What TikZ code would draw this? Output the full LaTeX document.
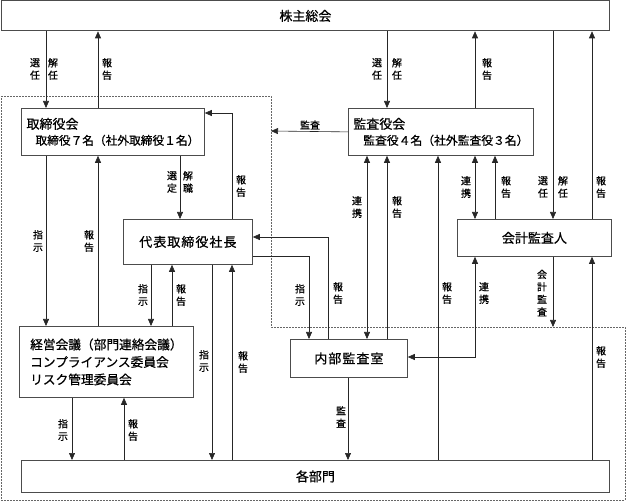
\documentclass[tikz,border=0pt]{standalone}
\usepackage{fontspec}
\setmainfont{Noto Sans CJK JP}[FakeBold=0.7]
\newfontfamily\spaced{Noto Sans CJK JP}[LetterSpace=8,FakeBold=0.7]
\usetikzlibrary{arrows.meta}

\begin{document}
\begin{tikzpicture}[x=1pt, y=-1pt,
    box/.style={draw=black!70, line width=0.8pt, anchor=north west,
      inner sep=0pt, font=\fontsize{13}{16}\selectfont},
    arr/.style={-{Triangle[length=7pt,width=6pt]}, draw=black!85, line width=0.6pt},
    both/.style={{Triangle[length=7pt,width=6pt]}-{Triangle[length=7pt,width=6pt]},
      draw=black!85, line width=0.6pt},
    lbl/.style={font=\fontsize{10}{12.5}\selectfont, align=center, inner sep=0pt},
    region/.style={draw=black!60, line width=0.6pt, dash pattern=on 2pt off 1pt}
  ]
  \useasboundingbox (0,0) rectangle (626,502);

  % dashed area
  \draw[region] (1,96) -- (271,96) -- (271,327) -- (625,327) -- (625,500)
    -- (1,500) -- cycle;

  % boxes
  \node[box, minimum width=608pt, minimum height=30pt] (kabu) at (1,0.5) {株主総会};
  \node[box, minimum width=183pt, minimum height=47pt, align=left,
    font=\fontsize{13}{16}\selectfont] (tori) at (21,108)
    {取締役会\\\hspace*{9pt}{\fontsize{11.7}{16}\selectfont 取締役７名（社外取締役１名）}};
  \node[box, minimum width=185pt, minimum height=47pt, align=left,
    font=\fontsize{13}{16}\selectfont] (kansa) at (348,108)
    {監査役会\\\hspace*{10pt}{\fontsize{11.8}{16}\selectfont 監査役４名（社外監査役３名）}};
  \node[box, minimum width=129pt, minimum height=45pt, font=\spaced\fontsize{13}{16}\selectfont]
    (pres) at (123,219) {代表取締役社長};
  \node[box, minimum width=154pt, minimum height=37pt] (kaikei) at (457,219) {会計監査人};
  \node[box, minimum width=174pt, minimum height=71pt, align=left,
    font=\fontsize{12.7}{17.5}\selectfont] (keiei) at (19,326)
    {経営会議（部門連絡会議）\\コンプライアンス委員会\\リスク管理委員会};
  \node[box, minimum width=117pt, minimum height=38pt, font=\spaced\fontsize{13}{16}\selectfont]
    (naibu) at (290,339) {内部監査室};
  \node[box, minimum width=588pt, minimum height=32pt] (kakubu) at (21,460) {各部門};

  \coordinate (auditend) at (271,131);
  \coordinate (acctend) at (553,327);

  % shareholders
  \draw[arr] (46,0 |- kabu.south) -- (46,0 |- tori.north);
  \draw[arr] (98,0 |- tori.north) -- (98,0 |- kabu.south);
  \draw[arr] (387,0 |- kabu.south) -- (387,0 |- kansa.north);
  \draw[arr] (475,0 |- kansa.north) -- (475,0 |- kabu.south);
  \draw[arr] (553,0 |- kabu.south) -- (553,0 |- kaikei.north);
  \draw[arr] (592,0 |- kaikei.north) -- (592,0 |- kabu.south);
  \node[lbl] (l1) at (35,69) {選\\任};
  \node[lbl] (l2) at (53,69) {解\\任};
  \node[lbl] (l3) at (107,69) {報\\告};
  \node[lbl] (l4) at (377,69) {選\\任};
  \node[lbl] (l5) at (397,69) {解\\任};
  \node[lbl] (l6) at (487,69) {報\\告};
  \node[lbl] (l7) at (543,187) {選\\任};
  \node[lbl] (l8) at (563,187) {解\\任};
  \node[lbl] (l9) at (601,187) {報\\告};

  % board
  \draw[arr] (kansa.west) -- (auditend);
  \node[lbl] (l10) at (310,125) {監査};
  \draw[arr] (180,0 |- tori.south) -- (180,0 |- pres.north);
  \draw[arr] (232,0 |- pres.north) |- (tori.east |- 0,113);
  \node[lbl] (l11) at (172,182) {選\\定};
  \node[lbl] (l12) at (188,182) {解\\職};
  \node[lbl] (l13) at (241,186) {報\\告};
  \draw[arr] (46,0 |- tori.south) -- (46,0 |- keiei.north);
  \draw[arr] (98,0 |- keiei.north) -- (98,0 |- tori.south);
  \node[lbl] (l14) at (38,241) {指\\示};
  \node[lbl] (l15) at (89,241) {報\\告};

  % president
  \draw[arr] (151,0 |- pres.south) -- (151,0 |- keiei.north);
  \draw[arr] (172,0 |- keiei.north) -- (172,0 |- pres.south);
  \node[lbl] (l16) at (143,295) {指\\示};
  \node[lbl] (l17) at (181,295) {報\\告};
  \draw[arr] (212,0 |- pres.south) -- (212,0 |- kakubu.north);
  \draw[arr] (232,0 |- kakubu.north) -- (232,0 |- pres.south);
  \node[lbl] (l18) at (204,361) {指\\示};
  \node[lbl] (l19) at (243,362) {報\\告};
  \draw[arr] (pres.east |- 0,256) -| (309,0 |- naibu.north);
  \draw[arr] (328,0 |- naibu.north) |- (pres.east |- 0,237);
  \node[lbl] (l20) at (300,295) {指\\示};
  \node[lbl] (l21) at (338,293) {報\\告};

  % management meeting
  \draw[arr] (72,0 |- keiei.south) -- (72,0 |- kakubu.north);
  \draw[arr] (124,0 |- kakubu.north) -- (124,0 |- keiei.south);
  \node[lbl] (l22) at (63,430) {指\\示};
  \node[lbl] (l23) at (133,430) {報\\告};

  % auditors
  \draw[both] (367,0 |- kansa.south) -- (367,0 |- naibu.north);
  \draw[arr] (387,0 |- naibu.north) -- (387,0 |- kansa.south);
  \node[lbl] (l24) at (357,207) {連\\携};
  \node[lbl] (l25) at (397,207) {報\\告};
  \draw[arr] (438,0 |- kakubu.north) -- (438,0 |- kansa.south);
  \node[lbl] (l26) at (447,293) {報\\告};
  \draw[both] (475,0 |- kansa.south) -- (475,0 |- kaikei.north);
  \draw[arr] (495,0 |- kaikei.north) -- (495,0 |- kansa.south);
  \node[lbl] (l27) at (466,187) {連\\携};
  \node[lbl] (l28) at (506,187) {報\\告};

  % accounting auditor
  \draw[both] (475,0 |- kaikei.south) |- (naibu.east |- 0,357);
  \node[lbl] (l29) at (484,293) {連\\携};
  \draw[arr] (553,0 |- kaikei.south) -- (acctend);
  \node[lbl] (l30) at (542,293) {会\\計\\監\\査};
  \draw[arr] (592,0 |- kakubu.north) -- (592,0 |- kaikei.south);
  \node[lbl] (l31) at (601,357) {報\\告};

  % internal audit
  \draw[arr] (348,0 |- naibu.south) -- (348,0 |- kakubu.north);
  \node[lbl] (l32) at (341,417) {監\\査};
\end{tikzpicture}
\end{document}
